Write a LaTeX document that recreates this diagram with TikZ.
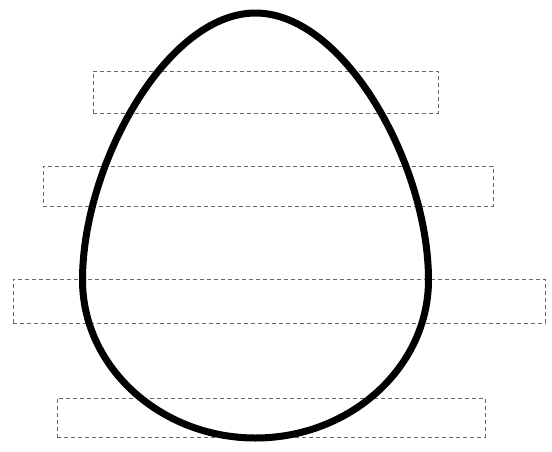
\documentclass[tikz,border=0pt]{standalone}
\usepackage{tikz}

\begin{document}
\begin{tikzpicture}[
 x=1pt,
 y=-1pt,
 band/.style={
  inner sep=0pt,
  outer sep=0pt,
  draw=black!60,
  line width=0.8pt,
  dash pattern=on 4pt off 3pt,
  rectangle,
 },
 shell/.style={
  line width=7pt,
  draw=black,
 }
]

\useasboundingbox (0,0) rectangle (552,451);

\node at (265.5,92) [band,minimum width=345pt,minimum height=42pt] (bandA) {};
\node at (268,186) [band,minimum width=450pt,minimum height=40pt] (bandB) {};
\node at (279,301) [band,minimum width=532pt,minimum height=44pt] (bandC) {};
\node at (271,417.5) [band,minimum width=428pt,minimum height=39pt] (bandD) {};

\draw[shell] (255.5,13)
 .. controls (344.5,13) and (428.5,165) .. (428.5,280)
 .. controls (428.5,367) and (350.5,438) .. (255.5,438)
 .. controls (160.5,438) and (82.5,367) .. (82.5,280)
 .. controls (82.5,165) and (166.5,13) .. (255.5,13) -- cycle;

\end{tikzpicture}
\end{document}
